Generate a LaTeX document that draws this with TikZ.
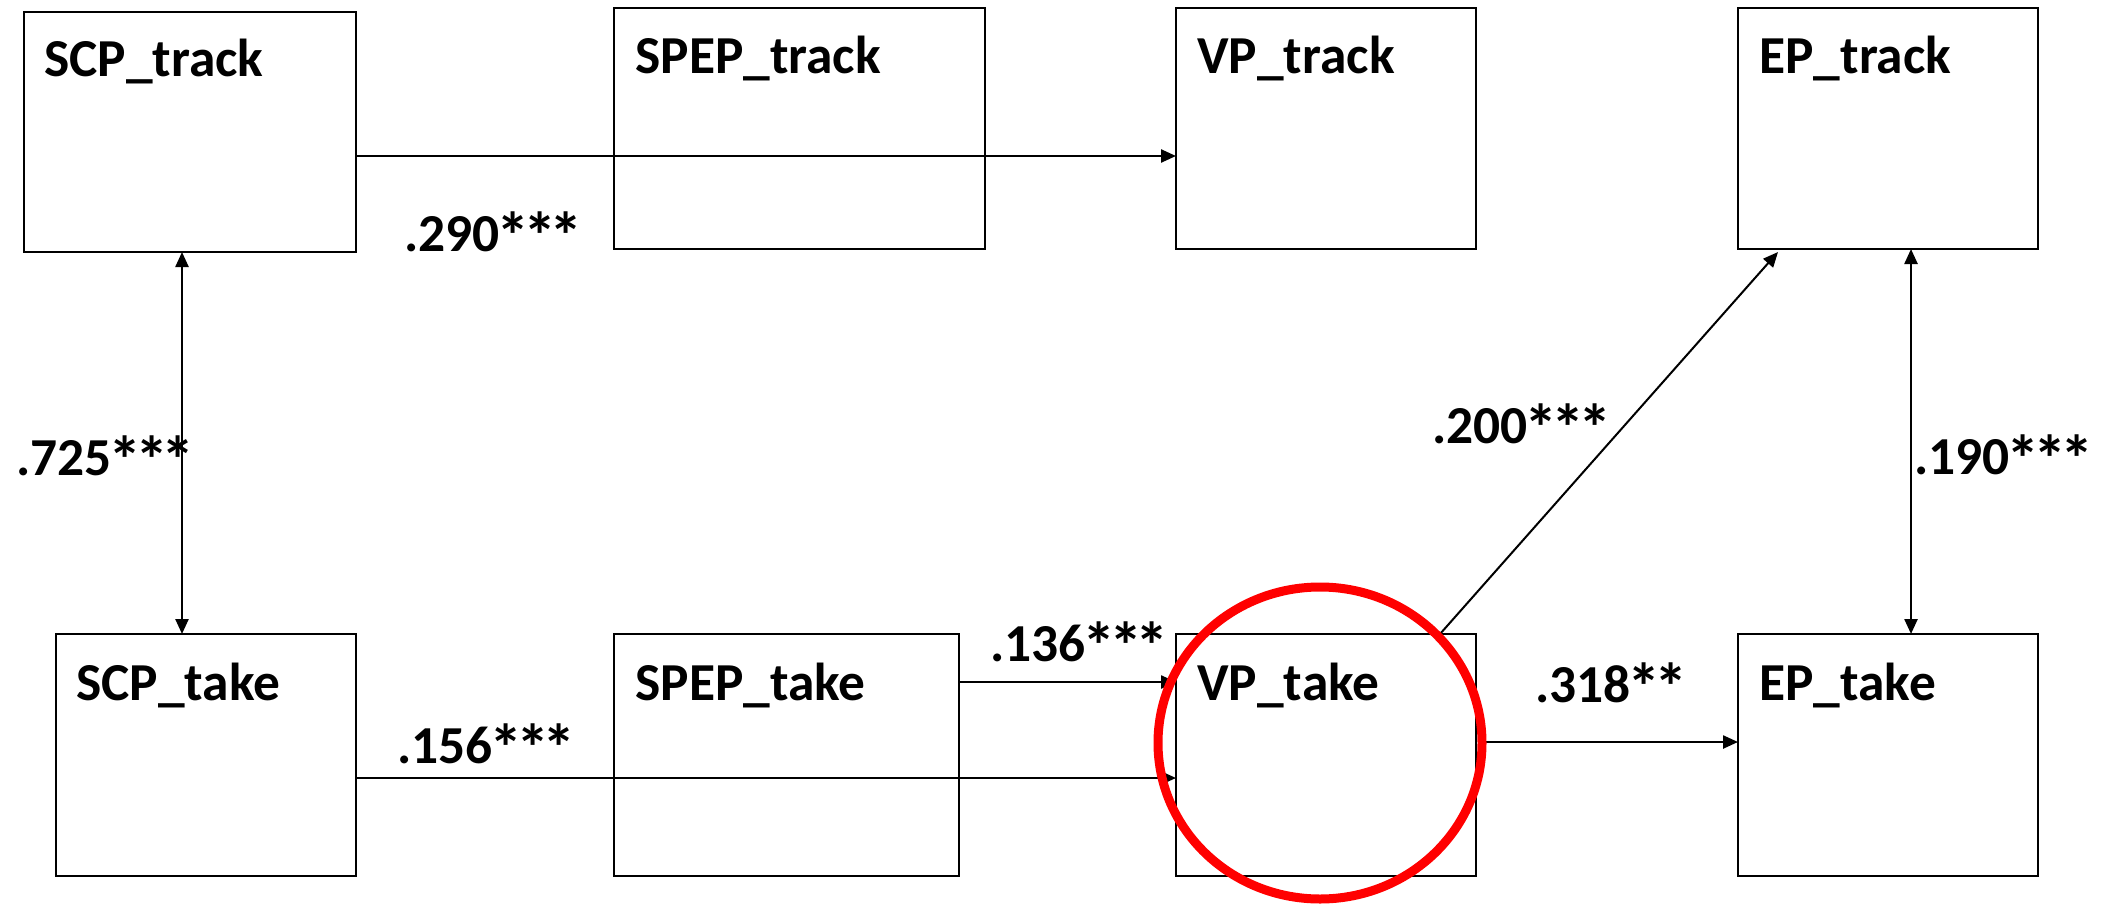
\documentclass[tikz,border=0pt]{standalone}
\usepackage{fontspec}
\usepackage{graphicx}
\setmainfont{Carlito}
\usetikzlibrary{arrows.meta,calc}
% a larger asterisk, hanging from the digit height
\newcommand{\sigast}{\makebox[0.5em]{\raisebox{-0.15em}{\scalebox{1.25}{*}}}}

\begin{document}
\begin{tikzpicture}[x=0.5pt,y=-0.5pt,
  box/.style={draw,line width=1.1pt,rectangle,inner sep=0pt,outer sep=0pt},
  title/.style={anchor=base west,inner sep=0pt,font=\fontsize{26.7}{30}\selectfont\bfseries},
  coef/.style={anchor=base west,inner sep=0pt,font=\fontsize{26.7}{30}\selectfont\bfseries},
  arr/.style={line width=1.2pt,-{Triangle[length=7.5pt,width=6.5pt]}},
  biarr/.style={line width=1.2pt,{Triangle[length=7.5pt,width=6.5pt]}-{Triangle[length=7.5pt,width=6.5pt]}},
]
\useasboundingbox (0,0) rectangle (2105,905);

% upper row
\node[box,minimum width=166pt,minimum height=120pt] (scptrack) at (190,132) {};
\node[box,minimum width=185.5pt,minimum height=120.5pt] (speptrack) at (799.5,128.5) {};
\node[box,minimum width=150pt,minimum height=120.5pt] (vptrack) at (1326,128.5) {};
\node[box,minimum width=150pt,minimum height=120.5pt] (eptrack) at (1888,128.5) {};

% lower row
\node[box,minimum width=150pt,minimum height=121pt] (scptake) at (206,755) {};
\node[box,minimum width=172.5pt,minimum height=121pt] (speptake) at (786.5,755) {};
\node[box,minimum width=150pt,minimum height=121pt] (vptake) at (1326,755) {};
\node[box,minimum width=150pt,minimum height=121pt] (eptake) at (1888,755) {};

% box titles
\node[title] (t1) at ($(scptrack.north west)+(20,64)$) {SCP\_track};
\node[title] (t2) at ($(speptrack.north west)+(21,65)$) {SPEP\_track};
\node[title] (t3) at ($(vptrack.north west)+(21,65)$) {VP\_track};
\node[title] (t4) at ($(eptrack.north west)+(21,65)$) {EP\_track};
\node[title] (t5) at ($(scptake.north west)+(20,66)$) {SCP\_take};
\node[title] (t6) at ($(speptake.north west)+(21,66)$) {SPEP\_take};
\node[title] (t7) at ($(vptake.north west)+(21,66)$) {VP\_take};
\node[title] (t8) at ($(eptake.north west)+(21,66)$) {EP\_take};

% paths
\draw[arr] ($(scptrack.east)+(0,24)$) coordinate (a1) -- (a1 -| vptrack.west);
\draw[biarr] ($(scptrack.south)+(-8,0)$) coordinate (a2) -- (a2 |- scptake.north);
\draw[arr] ($(scptake.east)+(0,23)$) coordinate (a3) -- (a3 -| vptake.west);
\draw[arr] ($(speptake.east)+(0,-73)$) coordinate (a4) -- (a4 -| vptake.west);
\draw[arr] ($(vptake.east)+(4,-13)$) coordinate (a5) -- (a5 -| eptake.west);
\draw[line width=1pt,-{Triangle[length=7.5pt,width=6.5pt]}]
  ($(vptake.north)+(114,0)$) -- ($(eptrack.south)+(-110,3)$);
\draw[biarr] ($(eptrack.south)+(23,0)$) coordinate (a7) -- (a7 |- eptake.north);

% coefficients
\node[coef] (c1) at (404,251) {.290\sigast\sigast\sigast};
\node[coef] (c2) at (16,475) {.725\sigast\sigast\sigast};
\node[coef] (c3) at (397,763) {.156\sigast\sigast\sigast};
\node[coef] (c4) at (990,661) {.136\sigast\sigast\sigast};
\node[coef] (c5) at (1432,443) {.200\sigast\sigast\sigast};
\node[coef] (c6) at (1914,474) {.190\sigast\sigast\sigast};
\node[coef] (c7) at (1535,702) {.318\sigast\sigast};

% highlight ring
\draw[red,line width=4.5pt] (1320,743) ellipse [x radius=81pt,y radius=78pt];
\end{tikzpicture}
\end{document}
